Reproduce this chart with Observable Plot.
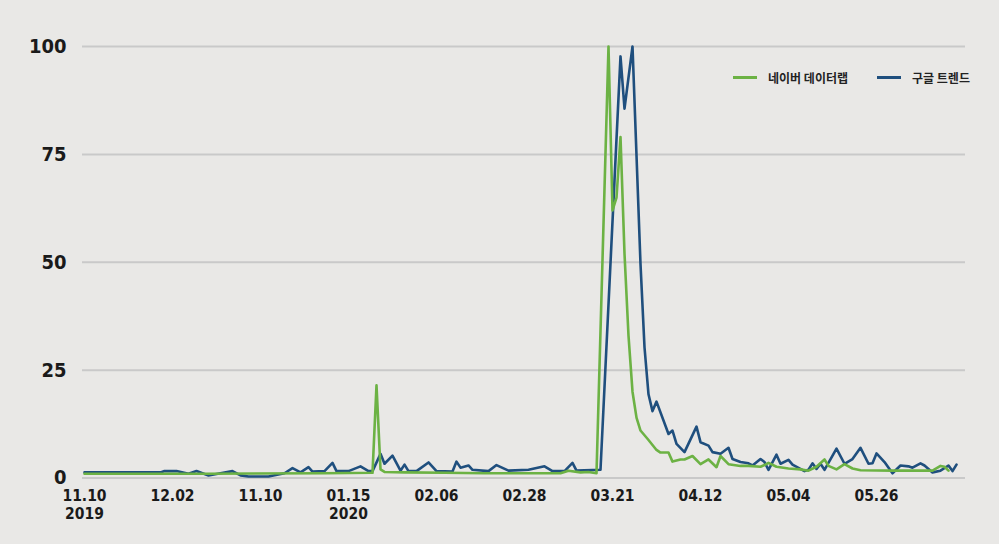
<!DOCTYPE html>
<html>
<head>
<meta charset="utf-8">
<script src="https://cdn.jsdelivr.net/npm/d3@7"></script>
<script src="https://cdn.jsdelivr.net/npm/@observablehq/plot@0.6"></script>
<style>
  html, body { margin: 0; padding: 0; background: #e9e8e6; }
  #wrap { position: relative; width: 999px; height: 544px; overflow: hidden; }
  #legend { position: absolute; top: 69px; left: 733px; display: flex; align-items: center;
    font-family: "Noto Sans CJK KR", sans-serif; font-weight: 700; font-size: 12px; color: #222; }
  .sw { display: inline-block; width: 24px; height: 3px; margin-right: 11px; }
  .item { display: flex; align-items: center; }
</style>
</head>
<body>
<div id="wrap">
  <div id="chart"></div>
  <div id="legend"></div>
</div>
<script>
// Series names
const seriesNames = ["네이버 데이터랩", "구글 트렌드"];
const seriesColors = ["#6cb244", "#1f4f7e"];

// Day index since 2019-11-10, Google Trends
const googleDays = [0, 19, 20, 23, 26, 28, 31, 34, 37, 39, 41, 46, 50, 52, 54, 56, 57, 60, 62, 63, 66, 69, 71, 72, 74, 75, 77, 79, 80, 81, 83, 86, 88, 92, 93, 94, 96, 97, 101, 103, 106, 111, 115, 117, 120, 122, 123, 129, 134, 135, 137, 139, 140, 141, 142, 143, 146, 147, 148, 150, 153, 154, 156, 157, 159, 161, 162, 164, 166, 167, 169, 170, 171, 173, 174, 176, 177, 180, 181, 182, 183, 184, 185, 188, 190, 192, 194, 196, 197, 198, 200, 202, 204, 206, 207, 209, 210, 212, 214, 216, 217, 218];
const googleValues = [1.3, 1.3, 1.6, 1.6, 1.0, 1.6, 0.6, 1.1, 1.6, 0.6, 0.35, 0.35, 1.1, 2.3, 1.3, 2.5, 1.5, 1.6, 3.5, 1.6, 1.6, 2.7, 1.6, 1.6, 5.6, 3.3, 5.2, 1.7, 3.1, 1.6, 1.6, 3.6, 1.6, 1.5, 3.8, 2.4, 2.9, 1.9, 1.6, 3.0, 1.7, 1.9, 2.7, 1.6, 1.6, 3.5, 1.7, 1.9, 97.7, 85.6, 100, 49.6, 30.3, 19.4, 15.5, 17.7, 10.2, 11.0, 7.9, 6.0, 11.9, 8.3, 7.5, 6.0, 5.6, 7.0, 4.4, 3.7, 3.4, 2.9, 4.4, 3.7, 1.9, 5.4, 3.3, 4.2, 3.1, 1.6, 1.9, 3.4, 2.1, 3.3, 1.9, 6.8, 3.3, 4.4, 7.0, 3.3, 3.4, 5.7, 3.7, 1.1, 2.9, 2.7, 2.4, 3.4, 2.9, 1.3, 1.7, 2.9, 1.6, 3.1];

// Day index since 2019-11-10, Naver DataLab
const naverDays = [0, 30, 60, 72, 73, 74, 75, 80, 90, 100, 110, 119, 121, 124, 126, 128, 131, 132, 133, 134, 135, 136, 137, 138, 139, 141, 143, 144, 146, 147, 149, 150, 152, 154, 156, 158, 159, 161, 164, 166, 169, 170, 171, 173, 176, 179, 181, 183, 185, 186, 188, 190, 192, 194, 202, 211, 212, 214, 215, 216];
const naverValues = [1.0, 1.0, 1.1, 1.2, 21.5, 2.0, 1.4, 1.3, 1.2, 1.1, 1.1, 1.1, 1.7, 1.3, 1.4, 1.1, 100, 62, 65, 79, 52, 33, 20, 14, 11, 8.8, 6.5, 5.9, 5.9, 3.8, 4.3, 4.3, 5.1, 3.2, 4.3, 2.5, 5.1, 3.2, 2.8, 2.8, 2.6, 3.0, 3.5, 2.6, 2.2, 2.0, 1.7, 2.6, 4.3, 2.8, 2.0, 3.2, 2.2, 1.8, 1.7, 1.7, 1.7, 2.8, 2.6, 1.7];

// Axis ticks
const xTickDays = [0, 22, 44, 66, 88, 110, 132, 154, 176, 198];
const xTickLabels = ["11.10\n2019", "12.02", "11.10", "01.15\n2020", "02.06", "02.28", "03.21", "04.12", "05.04", "05.26"];
const yTicks = [0, 25, 50, 75, 100];

const google = googleDays.map((d, i) => ({day: d, value: googleValues[i]}));
const naver = naverDays.map((d, i) => ({day: d, value: naverValues[i]}));
const labelByDay = new Map(xTickDays.map((d, i) => [d, xTickLabels[i]]));

const narrow = "'Liberation Sans Narrow', 'DejaVu Sans Condensed', 'Arial Narrow', sans-serif";

const chart = Plot.plot({
  width: 999,
  height: 544,
  marginLeft: 82,
  marginRight: 34,
  marginTop: 46,
  marginBottom: 66.5,
  style: {background: "transparent", color: "#1a1a1a"},
  x: {domain: [-0.5, 220.25]},
  y: {domain: [0, 100]},
  marks: [
    Plot.ruleY(yTicks, {stroke: "#c9c9c9", strokeWidth: 2}),
    Plot.axisY({ticks: yTicks, tickSize: 0, tickPadding: 16, fontSize: 20, fontWeight: "bold", fontFamily: narrow, fill: "#1a1a1a", label: null}),
    Plot.axisX({ticks: xTickDays, tickFormat: d => labelByDay.get(d), tickSize: 0, tickPadding: 11,
      fontSize: 15.5, fontWeight: "bold", fontFamily: narrow, lineHeight: 1.12, fill: "#1a1a1a", label: null}),
    Plot.line(google, {x: "day", y: "value", stroke: seriesColors[1], strokeWidth: 2.6, strokeLinejoin: "round"}),
    Plot.line(naver, {x: "day", y: "value", stroke: seriesColors[0], strokeWidth: 2.6, strokeLinejoin: "round"})
  ]
});
document.getElementById("chart").appendChild(chart);

const legend = document.getElementById("legend");
seriesNames.forEach((name, i) => {
  const item = document.createElement("div");
  item.className = "item";
  if (i > 0) item.style.marginLeft = "29px";
  const sw = document.createElement("span");
  sw.className = "sw";
  sw.style.background = seriesColors[i];
  item.appendChild(sw);
  const t = document.createElement("span");
  t.textContent = name;
  item.appendChild(t);
  legend.appendChild(item);
});
</script>
</body>
</html>
